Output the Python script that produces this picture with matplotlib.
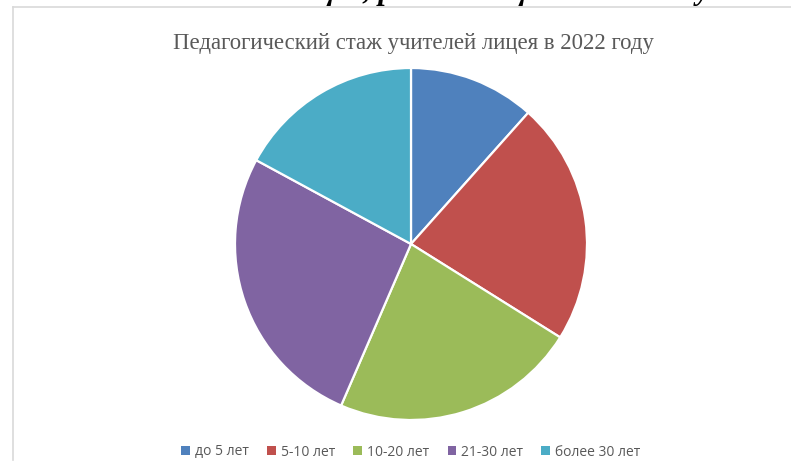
import matplotlib.pyplot as plt
from matplotlib.patches import Patch
from matplotlib.lines import Line2D

W, H = 791, 463

labels = ["до 5 лет", "5-10 лет", "10-20 лет", "21-30 лет", "более 30 лет"]
shares = [11.6, 22.3, 22.6, 26.4, 17.1]
colors = ["#4F81BD", "#C0504D", "#9BBB59", "#8064A2", "#4BACC6"]
title = "Педагогический стаж учителей лицея в 2022 году"
top_text = "педагогов лицея, работающих в 2022 году"

fig = plt.figure(figsize=(W / 100, H / 100), dpi=100)
fig.patch.set_facecolor("white")

# frame of the chart area (left and top edges only are visible)
fig.add_artist(Line2D([13 / W, 13 / W], [1 - 7 / H, 1 - 460 / H], color="#d9d9d9", lw=1.2))
fig.add_artist(Line2D([13 / W, 1.0], [1 - 7 / H, 1 - 7 / H], color="#d9d9d9", lw=1.2))

# clipped document text above the chart (only its lower edge shows)
fig.text(150 / W, 1 - 6 / H, top_text, fontsize=22, fontweight="bold", fontstyle="italic",
         family="Liberation Serif", color="black", ha="left", va="bottom")

fig.text(413 / W, 1 - 44 / H, title, fontsize=16.4, family="Liberation Serif",
         color="#595959", ha="center", va="center")

cx, cy, r = 411, 244, 176
ax = fig.add_axes([(cx - r) / W, (H - cy - r) / H, 2 * r / W, 2 * r / H])
ax.pie(shares, colors=colors, startangle=90, counterclock=False, radius=1,
       wedgeprops=dict(edgecolor="white", linewidth=1.6))
ax.set_xlim(-1, 1)
ax.set_ylim(-1, 1)
ax.set_aspect("equal")
ax.axis("off")

handles = [Patch(facecolor=c, edgecolor="none") for c in colors]
fig.legend(handles, labels, loc="center", bbox_to_anchor=(411 / W, 1 - 452 / H), ncol=5,
           frameon=False, prop={"family": "Open Sans", "size": 10},
           labelcolor="#595959", handlelength=0.6, handleheight=0.6,
           handletextpad=0.4, columnspacing=1.3)

fig.savefig("out.png", dpi=100)
